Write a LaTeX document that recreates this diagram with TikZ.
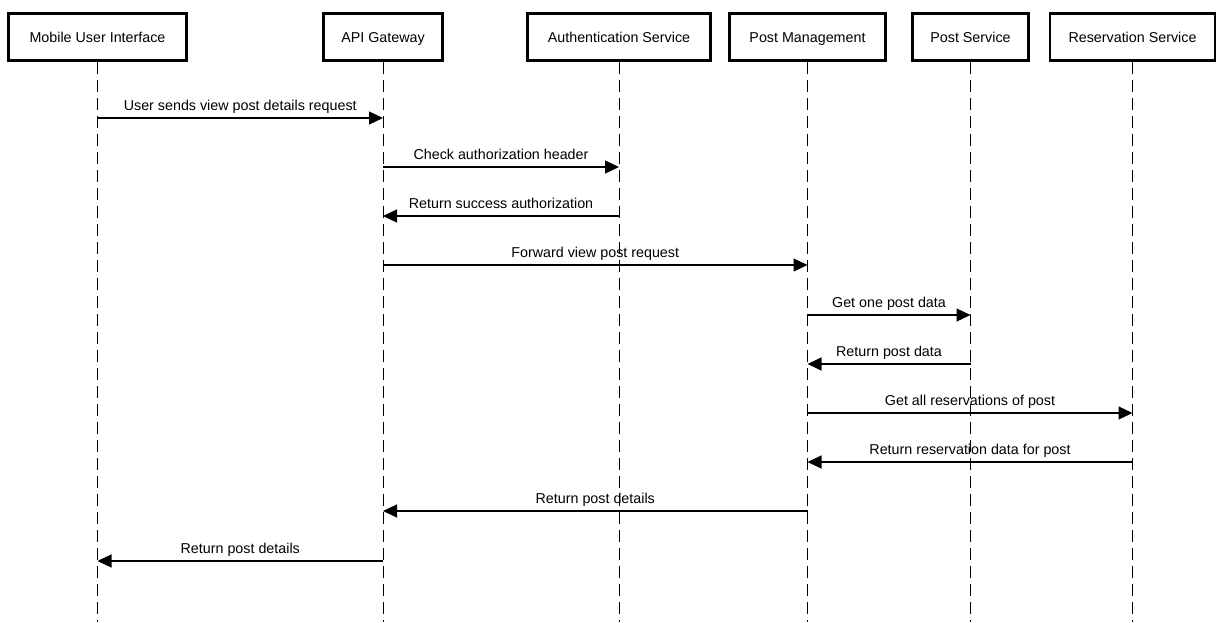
\documentclass[tikz,border=0pt]{standalone}
\usepackage{fontspec}
\setmainfont{Liberation Sans}
\usetikzlibrary{arrows.meta}
\begin{document}
\begin{tikzpicture}[x=1pt,y=-1pt,
  actor/.style={draw=black,line width=2.6pt,minimum height=47.5pt,inner sep=0pt,
    text height=10.4pt,text depth=0pt,
    font=\fontsize{14.3}{17}\selectfont},
  lifeline/.style={line width=1pt,dash pattern=on 12pt off 6pt},
  msg/.style={line width=1.2pt,-{Triangle[length=14pt,width=13pt]}},
  lbl/.style={anchor=base,inner sep=0pt,font=\fontsize{14.3}{17}\selectfont}]
\useasboundingbox (0,0) rectangle (1226,622);
% actors
\node[actor,minimum width=178pt] (mui) at (97.5,37) {Mobile User Interface};
\node[actor,minimum width=119pt] (api) at (383,37) {API Gateway};
\node[actor,minimum width=183pt] (auth) at (619,37) {Authentication Service};
\node[actor,minimum width=156pt] (pm) at (807.5,37) {Post Management};
\node[actor,minimum width=116pt] (ps) at (970.5,37) {Post Service};
\node[actor,minimum width=165pt] (rs) at (1132.5,37) {Reservation Service};
% lifeline ends
\foreach \n in {mui,api,auth,pm,ps,rs}{
  \coordinate (\n-end) at (\n.south |- 0,622);
  \draw[lifeline] (\n.south) -- (\n-end);
}
% messages
\newcommand{\seqmsg}[4]{%
  \draw[msg] (#1.south |- 0,#3) -- (#2.south |- 0,#3)
    node[lbl,pos=0.5,yshift=7.5pt] {#4};}
\seqmsg{mui}{api}{118}{User sends view post details request}
\seqmsg{api}{auth}{167}{Check authorization header}
\seqmsg{auth}{api}{216}{Return success authorization}
\seqmsg{api}{pm}{265}{Forward view post request}
\seqmsg{pm}{ps}{315}{Get one post data}
\seqmsg{ps}{pm}{364}{Return post data}
\seqmsg{pm}{rs}{413}{Get all reservations of post}
\seqmsg{rs}{pm}{462}{Return reservation data for post}
\seqmsg{pm}{api}{511}{Return post details}
\seqmsg{api}{mui}{561}{Return post details}
\end{tikzpicture}
\end{document}
